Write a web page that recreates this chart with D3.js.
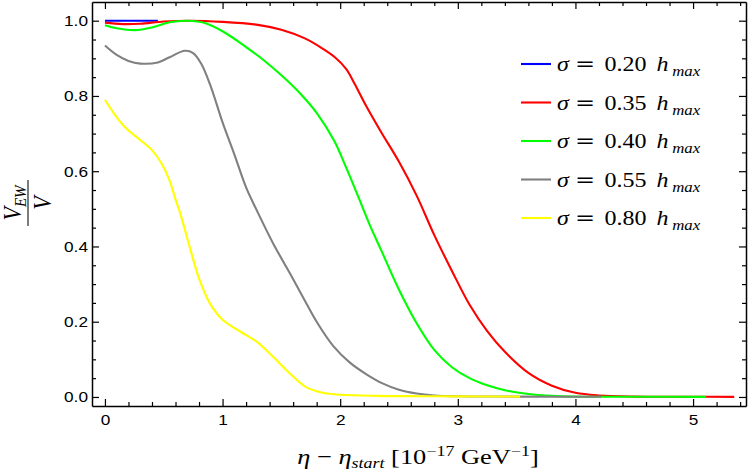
<!DOCTYPE html>
<html>
<head>
<meta charset="utf-8">
<script src="https://cdn.jsdelivr.net/npm/d3@7"></script>
<style>
  body { margin: 0; background: #fff; }
  svg { display: block; }
  .axis .domain { stroke: #000; stroke-width: 1.5; }
  .axis line { stroke: #000; stroke-width: 1.2; }
  .axis text { font-family: "Liberation Sans", Arial, sans-serif; font-size: 15px; fill: #000; }
</style>
</head>
<body>
<div id="chart"></div>
<script>
// values
const sigmaLabels = ["0.20", "0.35", "0.40", "0.55", "0.80"];
const lineColors = ["#0000ff", "#ff0000", "#00ff00", "#808080", "#ffff00"];

const blueX = [0, 0.45];
const blueY = [1.0, 1.0];

const redX = [0, 0.15, 0.3, 0.5, 0.72, 1.0, 1.3, 1.5, 1.7, 1.85, 1.95, 2.05, 2.12, 2.22, 2.35, 2.5, 2.65, 2.8, 2.95, 3.1, 3.25, 3.4, 3.6, 3.8, 4.0, 4.2, 4.5, 5.0, 5.35];
const redY = [0.995, 0.991, 0.992, 0.998, 1.0, 0.997, 0.989, 0.976, 0.953, 0.926, 0.904, 0.872, 0.834, 0.774, 0.703, 0.625, 0.535, 0.43, 0.335, 0.245, 0.175, 0.12, 0.064, 0.03, 0.011, 0.004, 0.001, 0.0005, 0.0003];

const greenX = [0, 0.1, 0.25, 0.4, 0.55, 0.7, 0.85, 1.0, 1.2, 1.35, 1.5, 1.65, 1.8, 1.95, 2.05, 2.15, 2.25, 2.35, 2.5, 2.65, 2.8, 2.95, 3.1, 3.25, 3.4, 3.6, 3.8, 4.0, 4.5, 5.11];
const greenY = [0.988, 0.98, 0.975, 0.982, 0.996, 1.0, 0.994, 0.972, 0.93, 0.895, 0.855, 0.81, 0.755, 0.68, 0.61, 0.535, 0.458, 0.389, 0.285, 0.196, 0.125, 0.079, 0.05, 0.031, 0.018, 0.008, 0.003, 0.001, 0.0005, 0.0003];

const grayX = [0, 0.1, 0.2, 0.3, 0.45, 0.55, 0.68, 0.75, 0.82, 0.9, 1.0, 1.1, 1.2, 1.3, 1.43, 1.57, 1.7, 1.8, 1.94, 2.08, 2.22, 2.36, 2.5, 2.65, 2.8, 3.0, 3.5, 4.22];
const grayY = [0.934, 0.909, 0.893, 0.886, 0.889, 0.903, 0.92, 0.914, 0.885, 0.825, 0.73, 0.645, 0.557, 0.49, 0.408, 0.33, 0.256, 0.2, 0.136, 0.092, 0.061, 0.036, 0.019, 0.009, 0.004, 0.002, 0.001, 0.0005];

const yellowX = [0, 0.085, 0.18, 0.3, 0.4, 0.48, 0.55, 0.6, 0.64, 0.72, 0.8, 0.89, 1.0, 1.15, 1.29, 1.43, 1.57, 1.71, 1.85, 2.0, 2.3, 2.7, 3.0, 3.53];
const yellowY = [0.79, 0.75, 0.714, 0.683, 0.656, 0.621, 0.575, 0.525, 0.488, 0.399, 0.315, 0.25, 0.205, 0.174, 0.147, 0.107, 0.063, 0.026, 0.011, 0.006, 0.003, 0.002, 0.0015, 0.001];

const xTicks = [0, 1, 2, 3, 4, 5];
const yTicks = [0, 0.2, 0.4, 0.6, 0.8, 1.0];

const seriesX = [blueX, redX, greenX, grayX, yellowX];
const seriesY = [blueY, redY, greenY, grayY, yellowY];

//sizes
const width = 748,
    height = 473,
    stretch = 1.15; // the reference text is a bit wider than tall

let svg = d3.select("#chart").append("svg")
    .attr("width", width)
    .attr("height", height);

const x = d3.scaleLinear().domain([-0.11, 5.45]).range([92, 746]);
const y = d3.scaleLinear().domain([-0.024, 1.0497]).range([406, 2]);

//minor ticks every 0.2 on x, every 0.05 on y
const xMinor = d3.range(0, 28).map(i => i * 0.2).filter((v, i) => i % 5 !== 0);
const yMinor = d3.range(0, 21).map(i => i * 0.05).filter((v, i) => i % 4 !== 0);

function minorAxis(axis, tx, ty) {
  let g = svg.append("g")
      .attr("class", "axis")
      .attr("transform", "translate(" + tx + "," + ty + ")")
      .call(axis.tickSizeInner(-4).tickSizeOuter(0).tickFormat(""));
  g.select(".domain").remove();
}

minorAxis(d3.axisBottom(x).tickValues(xMinor), 0, 406);
minorAxis(d3.axisTop(x).tickValues(xMinor), 0, 2);
minorAxis(d3.axisLeft(y).tickValues(yMinor), 92, 0);
minorAxis(d3.axisRight(y).tickValues(yMinor), 746, 0);

let xAxis = svg.append("g")
    .attr("class", "axis")
    .attr("transform", "translate(0,406)")
    .call(d3.axisBottom(x).tickValues(xTicks).tickSizeInner(-7).tickSizeOuter(0)
      .tickPadding(8).tickFormat(d3.format("d")));

svg.append("g")
    .attr("class", "axis")
    .attr("transform", "translate(0,2)")
    .call(d3.axisTop(x).tickValues(xTicks).tickSizeInner(-7).tickSizeOuter(0).tickFormat(""));

let yAxis = svg.append("g")
    .attr("class", "axis")
    .attr("transform", "translate(92,0)")
    .call(d3.axisLeft(y).tickValues(yTicks).tickSizeInner(-7).tickSizeOuter(0)
      .tickPadding(3.5).tickFormat(d3.format(".1f")));

svg.append("g")
    .attr("class", "axis")
    .attr("transform", "translate(746,0)")
    .call(d3.axisRight(y).tickValues(yTicks).tickSizeInner(-7).tickSizeOuter(0).tickFormat(""));

xAxis.selectAll("text").attr("transform", "scale(" + stretch + ",1)");
yAxis.selectAll("text").attr("transform", "scale(" + stretch + ",1)");

//curves
let line = d3.line()
    .x(d => x(d[0]))
    .y(d => y(d[1]))
    .curve(d3.curveCatmullRom.alpha(0.5));

seriesX.forEach(function(xs, i) {
  let pts = xs.map((v, j) => [v, seriesY[i][j]]);
  svg.append("path")
      .datum(pts)
      .attr("d", line)
      .attr("fill", "none")
      .attr("stroke", lineColors[i])
      .attr("stroke-width", 2.1)
      .attr("stroke-linejoin", "round");
});

//legend
const serif = '"Liberation Serif", "Times New Roman", serif';
let legend = svg.selectAll(".legend")
    .data(sigmaLabels)
  .enter()
    .append("g")
    .attr("class", "legend")
    .attr("transform", (d, i) => "translate(0," + (64 + i * 38.5) + ")");

legend.append("line")
    .attr("x1", 521).attr("x2", 551)
    .attr("stroke", (d, i) => lineColors[i])
    .attr("stroke-width", 2.1);

let ltext = legend.append("text")
    .attr("transform", "translate(557,7) scale(1.2,1)")
    .attr("font-family", serif)
    .attr("font-size", 20)
    .attr("fill", "#000");

ltext.append("tspan").attr("x", 0).attr("font-style", "italic").text("σ");
ltext.append("tspan").attr("x", 15).attr("font-family", '"DejaVu Serif", serif').attr("font-size", 20).text("=");
ltext.append("tspan").attr("x", 39.5).text(d => d);
ltext.append("tspan").attr("x", 83).attr("font-style", "italic").text("h");
ltext.append("tspan").attr("x", 96).attr("dy", 5).attr("font-size", 14).attr("font-style", "italic").text("max");

//x label
let xl = svg.append("text")
    .attr("transform", "translate(418,464) scale(1.2,1)")
    .attr("text-anchor", "middle")
    .attr("font-family", serif)
    .attr("font-size", 22)
    .attr("fill", "#000");
xl.append("tspan").attr("font-style", "italic").text("η");
xl.append("tspan").text(" − ");
xl.append("tspan").attr("font-style", "italic").text("η");
xl.append("tspan").attr("font-style", "italic").attr("font-size", 15).attr("dy", 4).text("start");
xl.append("tspan").attr("dy", -4).text(" [10");
xl.append("tspan").attr("font-size", 15).attr("dy", -8).text("−17");
xl.append("tspan").attr("dy", 8).text(" GeV");
xl.append("tspan").attr("font-size", 15).attr("dy", -8).text("−1");
xl.append("tspan").attr("dy", 8).text("]");

//y label as a fraction V_EW / V
let yl = svg.append("g")
    .attr("transform", "translate(28,203) scale(" + stretch + ",1) rotate(-90)");
yl.append("line")
    .attr("x1", -23).attr("x2", 23)
    .attr("stroke", "#000").attr("stroke-width", 0.9);
let num = yl.append("text")
    .attr("y", -6)
    .attr("text-anchor", "middle")
    .attr("font-family", serif)
    .attr("font-size", 22)
    .attr("font-style", "italic")
    .attr("fill", "#000");
num.append("tspan").text("V");
num.append("tspan").attr("font-size", 15).attr("dy", 4).text("EW");
yl.append("text")
    .attr("y", 20)
    .attr("text-anchor", "middle")
    .attr("font-family", serif)
    .attr("font-size", 22)
    .attr("font-style", "italic")
    .attr("fill", "#000")
    .text("V");
</script>
</body>
</html>
